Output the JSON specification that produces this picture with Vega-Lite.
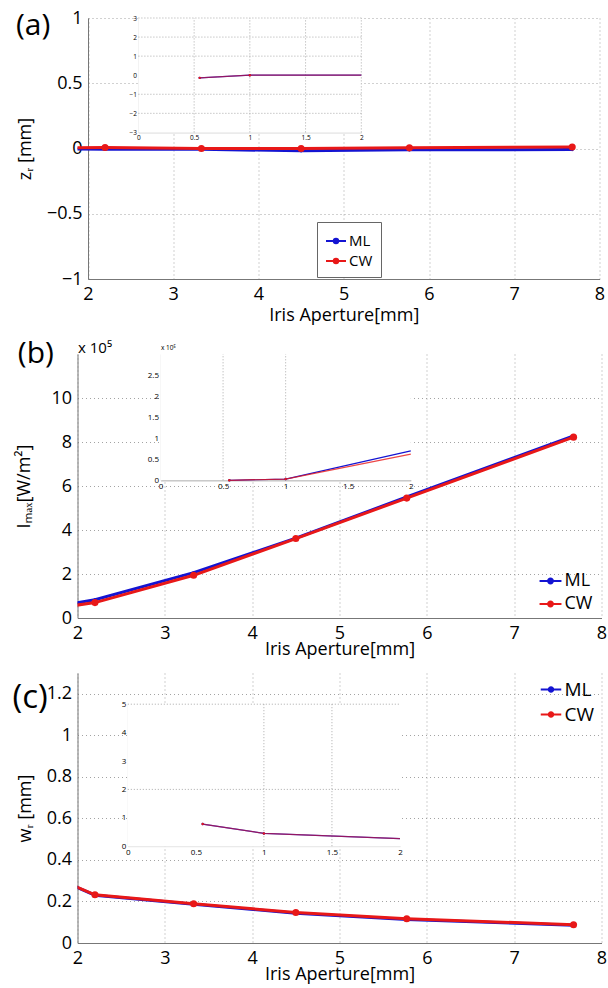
{
  "$schema": "https://vega.github.io/schema/vega-lite/v6.json",
  "background": "white",
  "padding": {"left": 12.5, "top": 9, "right": 2, "bottom": 2},
  "spacing": 15,
  "resolve": {"legend": {"color": "independent"}},
  "config": {
    "view": {"stroke": null},
    "font": "Open Sans",
    "axis": {
      "labelFont": "Open Sans", "titleFont": "Open Sans",
      "labelFontSize": 18, "titleFontSize": 18, "titleFontWeight": "normal",
      "labelColor": "#000", "titleColor": "#000",
      "domainColor": "#777", "ticks": false, "labelPadding": 6,
      "gridColor": "#999", "gridDash": [1, 3], "gridOpacity": 0.9,
      "labelFlush": false, "labelOverlap": false, "titlePadding": 8, "format": "~g"
    },
    "title": {"font": "Open Sans", "fontWeight": "normal", "fontSize": 30, "color": "#000"},
    "legend": {"labelFont": "Open Sans", "labelColor": "#000"}
  },
  "datasets": {
    "a": [
      {"x": 0.55, "s": "ML", "y": -0.14}, {"x": 1, "s": "ML", "y": 0}, {"x": 2.2, "s": "ML", "y": -0.005},
      {"x": 3.33, "s": "ML", "y": -0.006}, {"x": 4.5, "s": "ML", "y": -0.018}, {"x": 5.77, "s": "ML", "y": -0.01},
      {"x": 7.68, "s": "ML", "y": -0.008},
      {"x": 0.55, "s": "CW", "y": -0.14}, {"x": 1, "s": "CW", "y": 0}, {"x": 2.2, "s": "CW", "y": 0.008},
      {"x": 3.33, "s": "CW", "y": 0.0}, {"x": 4.5, "s": "CW", "y": 0.0}, {"x": 5.77, "s": "CW", "y": 0.005},
      {"x": 7.68, "s": "CW", "y": 0.012}
    ],
    "aIn": [
      {"x": 0.55, "s": "ML", "y": -0.14}, {"x": 1, "s": "ML", "y": 0}, {"x": 2, "s": "ML", "y": 0},
      {"x": 0.55, "s": "CW", "y": -0.14}, {"x": 1, "s": "CW", "y": 0}, {"x": 2, "s": "CW", "y": 0}
    ],
    "aBox": [{"x0": 0, "x1": 2, "y0": -3, "y1": 3}],
    "aGx": [{"g": 0.5}, {"g": 1}, {"g": 1.5}, {"g": 2}],
    "aGy": [{"g": -2}, {"g": -1}, {"g": 1}, {"g": 2}, {"g": 3}],
    "b": [
      {"x": 0.55, "s": "ML", "y": 0}, {"x": 1, "s": "ML", "y": 0.03}, {"x": 2.2, "s": "ML", "y": 0.83},
      {"x": 3.33, "s": "ML", "y": 2.06}, {"x": 4.5, "s": "ML", "y": 3.63}, {"x": 5.77, "s": "ML", "y": 5.5},
      {"x": 7.68, "s": "ML", "y": 8.28},
      {"x": 0.55, "s": "CW", "y": 0}, {"x": 1, "s": "CW", "y": 0.03}, {"x": 2.2, "s": "CW", "y": 0.7},
      {"x": 3.33, "s": "CW", "y": 1.94}, {"x": 4.5, "s": "CW", "y": 3.61}, {"x": 5.77, "s": "CW", "y": 5.45},
      {"x": 7.68, "s": "CW", "y": 8.22}
    ],
    "bIn": [
      {"x": 0.55, "s": "ML", "y": 0}, {"x": 1, "s": "ML", "y": 0.03}, {"x": 2, "s": "ML", "y": 0.7},
      {"x": 0.55, "s": "CW", "y": 0}, {"x": 1, "s": "CW", "y": 0.03}, {"x": 2, "s": "CW", "y": 0.62}
    ],
    "bBox": [{"x0": 0, "x1": 2, "y0": 0, "y1": 3}],
    "bGx": [{"g": 0.5}, {"g": 1}],
    "c": [
      {"x": 0.55, "s": "ML", "y": 0.78}, {"x": 1, "s": "ML", "y": 0.45}, {"x": 2.2, "s": "ML", "y": 0.23},
      {"x": 3.33, "s": "ML", "y": 0.187}, {"x": 4.5, "s": "ML", "y": 0.143}, {"x": 5.77, "s": "ML", "y": 0.113},
      {"x": 7.68, "s": "ML", "y": 0.086},
      {"x": 0.55, "s": "CW", "y": 0.78}, {"x": 1, "s": "CW", "y": 0.45}, {"x": 2.2, "s": "CW", "y": 0.232},
      {"x": 3.33, "s": "CW", "y": 0.189}, {"x": 4.5, "s": "CW", "y": 0.147}, {"x": 5.77, "s": "CW", "y": 0.117},
      {"x": 7.68, "s": "CW", "y": 0.088}
    ],
    "cIn": [
      {"x": 0.55, "s": "ML", "y": 0.78}, {"x": 1, "s": "ML", "y": 0.45}, {"x": 2, "s": "ML", "y": 0.27},
      {"x": 0.55, "s": "CW", "y": 0.78}, {"x": 1, "s": "CW", "y": 0.45}, {"x": 2, "s": "CW", "y": 0.27}
    ],
    "cBox": [{"x0": 0, "x1": 2, "y0": 0, "y1": 5}],
    "cGx": [{"g": 1}, {"g": 1.5}],
    "cGy": [{"g": 2}, {"g": 5}]
  },
  "vconcat": [
    {
      "title": {"text": "(a)", "anchor": "start", "frame": "bounds", "offset": -32, "dx": 0},
      "width": 522, "height": 261,
      "resolve": {"scale": {"x": "independent", "y": "independent"}},
      "layer": [
        {
          "data": {"name": "a"},
          "layer": [
            {
              "transform": [{"filter": "datum.s === 'ML'"}],
              "mark": {"type": "line", "strokeWidth": 3, "clip": true},
              "encoding": {
                "x": {"field": "x", "type": "quantitative", "scale": {"domain": [2, 8], "range": [10.5, 522], "nice": false, "zero": false},
                      "axis": {"orient": "bottom", "values": [2, 3, 4, 5, 6, 7, 8], "title": "Iris Aperture[mm]", "grid": true, "titlePadding": 3}},
                "y": {"field": "y", "type": "quantitative", "scale": {"domain": [-1, 1], "nice": false, "zero": false},
                      "axis": {"orient": "left", "offset": -10.5, "values": [-1, -0.5, 0, 0.5, 1], "title": "zᵣ [mm]", "grid": true,
                               "titleX": -54, "titleY": 130.5}},
                "color": {"field": "s", "type": "nominal", "scale": {"domain": ["ML", "CW"], "range": ["#1414d2", "#e81818"]},
                  "legend": {"orient": "none", "legendX": 239.5, "legendY": 204, "title": null, "strokeColor": "#666", "fillColor": "white",
                    "padding": 8, "labelFontSize": 15, "labelOffset": 2, "rowPadding": 1,
                    "symbolType": "M-1,0H1M0.22,0A0.22,0.22,0,1,1,-0.22,0A0.22,0.22,0,1,1,0.22,0Z", "symbolSize": 400, "symbolStrokeWidth": 2,
                    "encode": {"symbols": {"update": {"fill": {"scale": "color", "field": "value"}, "stroke": {"scale": "color", "field": "value"}}}}}}
              }
            },
            {
              "transform": [{"filter": "datum.s === 'ML'"}],
              "mark": {"type": "point", "filled": true, "size": 12, "opacity": 1, "clip": true},
              "encoding": {"x": {"field": "x", "type": "quantitative"}, "y": {"field": "y", "type": "quantitative"}, "color": {"field": "s", "type": "nominal"}}
            },
            {
              "transform": [{"filter": "datum.s === 'CW'"}],
              "mark": {"type": "line", "strokeWidth": 3, "clip": true},
              "encoding": {"x": {"field": "x", "type": "quantitative"}, "y": {"field": "y", "type": "quantitative"}, "color": {"field": "s", "type": "nominal"}}
            },
            {
              "transform": [{"filter": "datum.s === 'CW'"}],
              "mark": {"type": "point", "filled": true, "size": 50, "opacity": 1, "clip": true},
              "encoding": {"x": {"field": "x", "type": "quantitative"}, "y": {"field": "y", "type": "quantitative"}, "color": {"field": "s", "type": "nominal"}}
            }
          ]
        },
        {
          "layer": [
            {
              "data": {"name": "aBox"},
              "mark": {"type": "rect", "fill": "white"},
              "encoding": {
                "x": {"field": "x0", "type": "quantitative", "scale": {"domain": [0, 2], "range": [60.9, 283.8], "nice": false, "zero": false},
                      "axis": {"orient": "bottom", "offset": -146.6, "values": [0, 0.5, 1, 1.5, 2], "title": null, "grid": false,
                               "labelFontSize": 6.5, "labelPadding": 2, "domainColor": "#ccc"}},
                "x2": {"field": "x1"},
                "y": {"field": "y0", "type": "quantitative", "scale": {"domain": [-3, 3], "range": [114.4, 0], "nice": false, "zero": false},
                      "axis": {"orient": "left", "offset": -60.9, "values": [-3, -2, -1, 0, 1, 2, 3], "title": null, "grid": false,
                               "labelFontSize": 6.5, "labelPadding": 2, "domainColor": "#ccc"}},
                "y2": {"field": "y1"}
              }
            },
            {
              "data": {"name": "aGx"},
              "mark": {"type": "rule", "color": "#aaa", "strokeDash": [1, 2], "strokeWidth": 1},
              "encoding": {"x": {"field": "g", "type": "quantitative"}, "y": {"datum": -3}, "y2": {"datum": 3}}
            },
            {
              "data": {"name": "aGy"},
              "mark": {"type": "rule", "color": "#aaa", "strokeDash": [1, 2], "strokeWidth": 1},
              "encoding": {"y": {"field": "g", "type": "quantitative"}, "x": {"datum": 0}, "x2": {"datum": 2}}
            },
            {
              "data": {"name": "aIn"},
              "transform": [{"filter": "datum.s === 'ML'"}],
              "mark": {"type": "line", "strokeWidth": 1.3},
              "encoding": {"x": {"field": "x", "type": "quantitative"}, "y": {"field": "y", "type": "quantitative"}, "color": {"field": "s", "type": "nominal", "legend": null}}
            },
            {
              "data": {"name": "aIn"},
              "transform": [{"filter": "datum.s === 'CW'"}],
              "mark": {"type": "line", "strokeWidth": 1.3, "opacity": 0.6},
              "encoding": {"x": {"field": "x", "type": "quantitative"}, "y": {"field": "y", "type": "quantitative"}, "color": {"field": "s", "type": "nominal", "legend": null}}
            },
            {
              "data": {"name": "aIn"},
              "transform": [{"filter": "datum.x < 2"}],
              "mark": {"type": "point", "filled": true, "size": 6, "opacity": 1},
              "encoding": {"x": {"field": "x", "type": "quantitative"}, "y": {"field": "y", "type": "quantitative"}, "color": {"field": "s", "type": "nominal", "legend": null}}
            }
          ]
        }
      ]
    },
    {
      "title": {"text": "(b)", "anchor": "start", "frame": "bounds", "offset": -29, "dx": 2},
      "width": 524, "height": 264,
      "resolve": {"scale": {"x": "independent", "y": "independent"}},
      "layer": [
        {
          "data": {"name": "b"},
          "layer": [
            {
              "transform": [{"filter": "datum.s === 'ML'"}],
              "mark": {"type": "line", "strokeWidth": 3, "clip": true},
              "encoding": {
                "x": {"field": "x", "type": "quantitative", "scale": {"domain": [2, 8], "nice": false, "zero": false},
                      "axis": {"orient": "bottom", "values": [2, 3, 4, 5, 6, 7, 8], "title": "Iris Aperture[mm]", "grid": true, "titlePadding": -2}},
                "y": {"field": "y", "type": "quantitative", "scale": {"domain": [0, 12], "nice": false, "zero": false},
                      "axis": {"orient": "left", "values": [0, 2, 4, 6, 8, 10], "title": "Iₘₐₓ[W/m²]", "grid": true,
                               "titleX": -43.7, "titleY": 132}},
                "color": {"field": "s", "type": "nominal", "scale": {"domain": ["ML", "CW"], "range": ["#1414d2", "#e81818"]},
                  "legend": {"orient": "none", "legendX": 459, "legendY": 213, "title": null,
                    "padding": 2, "labelFontSize": 18, "labelOffset": 2, "rowPadding": 2,
                    "symbolType": "M-1,0H1M0.22,0A0.22,0.22,0,1,1,-0.22,0A0.22,0.22,0,1,1,0.22,0Z", "symbolSize": 480, "symbolStrokeWidth": 2,
                    "encode": {"symbols": {"update": {"fill": {"scale": "color", "field": "value"}, "stroke": {"scale": "color", "field": "value"}}}}}}
              }
            },
            {
              "transform": [{"filter": "datum.s === 'ML'"}],
              "mark": {"type": "point", "filled": true, "size": 12, "opacity": 1, "clip": true},
              "encoding": {"x": {"field": "x", "type": "quantitative"}, "y": {"field": "y", "type": "quantitative"}, "color": {"field": "s", "type": "nominal"}}
            },
            {
              "transform": [{"filter": "datum.s === 'CW'"}],
              "mark": {"type": "line", "strokeWidth": 3, "clip": true},
              "encoding": {"x": {"field": "x", "type": "quantitative"}, "y": {"field": "y", "type": "quantitative"}, "color": {"field": "s", "type": "nominal"}}
            },
            {
              "transform": [{"filter": "datum.s === 'CW'"}],
              "mark": {"type": "point", "filled": true, "size": 50, "opacity": 1, "clip": true},
              "encoding": {"x": {"field": "x", "type": "quantitative"}, "y": {"field": "y", "type": "quantitative"}, "color": {"field": "s", "type": "nominal"}}
            }
          ]
        },
        {
          "layer": [
            {
              "data": {"name": "bBox"},
              "mark": {"type": "rect", "fill": "white"},
              "encoding": {
                "x": {"field": "x0", "type": "quantitative", "scale": {"domain": [0, 2], "range": [83, 333.3], "nice": false, "zero": false},
                      "axis": {"orient": "bottom", "offset": -137.7, "values": [0, 0.5, 1, 1.5, 2], "grid": false,
                               "labelFontSize": 8, "labelPadding": 2, "domainColor": "#999",
                               "title": "x 10⁵", "titleFontSize": 15, "titleAngle": 0, "titleAlign": "left", "titleBaseline": "alphabetic",
                               "titleX": 0, "titleY": -128.3}},
                "x2": {"field": "x1"},
                "y": {"field": "y0", "type": "quantitative", "scale": {"domain": [0, 3], "range": [126.3, 0], "nice": false, "zero": false},
                      "axis": {"orient": "left", "offset": -83, "values": [0, 0.5, 1, 1.5, 2, 2.5], "grid": false,
                               "labelFontSize": 8, "labelPadding": 2, "domainColor": "#ddd",
                               "title": "x 10⁵", "titleFontSize": 6.5, "titleAngle": 0, "titleAlign": "left", "titleBaseline": "alphabetic",
                               "titleX": 0, "titleY": -5}},
                "y2": {"field": "y1"}
              }
            },
            {
              "data": {"name": "bGx"},
              "mark": {"type": "rule", "color": "#aaa", "strokeDash": [1, 2], "strokeWidth": 1},
              "encoding": {"x": {"field": "g", "type": "quantitative"}, "y": {"datum": 0}, "y2": {"datum": 3}}
            },
            {
              "data": {"name": "bIn"},
              "transform": [{"filter": "datum.s === 'ML'"}],
              "mark": {"type": "line", "strokeWidth": 1.2},
              "encoding": {"x": {"field": "x", "type": "quantitative"}, "y": {"field": "y", "type": "quantitative"}, "color": {"field": "s", "type": "nominal", "legend": null}}
            },
            {
              "data": {"name": "bIn"},
              "transform": [{"filter": "datum.s === 'CW'"}],
              "mark": {"type": "line", "strokeWidth": 1.2, "opacity": 0.8},
              "encoding": {"x": {"field": "x", "type": "quantitative"}, "y": {"field": "y", "type": "quantitative"}, "color": {"field": "s", "type": "nominal", "legend": null}}
            },
            {
              "data": {"name": "bIn"},
              "transform": [{"filter": "datum.x < 2"}],
              "mark": {"type": "point", "filled": true, "size": 6, "opacity": 1},
              "encoding": {"x": {"field": "x", "type": "quantitative"}, "y": {"field": "y", "type": "quantitative"}, "color": {"field": "s", "type": "nominal", "legend": null}}
            }
          ]
        }
      ]
    },
    {
      "title": {"text": "(c)", "anchor": "start", "frame": "bounds", "offset": -42, "dx": -4, "fontSize": 33},
      "width": 524, "height": 270,
      "resolve": {"scale": {"x": "independent", "y": "independent"}},
      "layer": [
        {
          "data": {"name": "c"},
          "layer": [
            {
              "transform": [{"filter": "datum.s === 'ML'"}],
              "mark": {"type": "line", "strokeWidth": 3, "clip": true},
              "encoding": {
                "x": {"field": "x", "type": "quantitative", "scale": {"domain": [2, 8], "nice": false, "zero": false},
                      "axis": {"orient": "bottom", "values": [2, 3, 4, 5, 6, 7, 8], "title": "Iris Aperture[mm]", "grid": true, "titlePadding": -2}},
                "y": {"field": "y", "type": "quantitative", "scale": {"domain": [0, 1.3], "nice": false, "zero": false},
                      "axis": {"orient": "left", "values": [0, 0.2, 0.4, 0.6, 0.8, 1, 1.2], "title": "wᵣ [mm]", "grid": true,
                               "titleX": -43, "titleY": 135}},
                "color": {"field": "s", "type": "nominal", "scale": {"domain": ["ML", "CW"], "range": ["#1414d2", "#e81818"]},
                  "legend": {"orient": "none", "legendX": 460, "legendY": 3, "title": null,
                    "padding": 2, "labelFontSize": 19, "labelOffset": 2, "rowPadding": 3,
                    "symbolType": "M-1,0H1M0.22,0A0.22,0.22,0,1,1,-0.22,0A0.22,0.22,0,1,1,0.22,0Z", "symbolSize": 420, "symbolStrokeWidth": 2,
                    "encode": {"symbols": {"update": {"fill": {"scale": "color", "field": "value"}, "stroke": {"scale": "color", "field": "value"}}}}}}
              }
            },
            {
              "transform": [{"filter": "datum.s === 'ML'"}],
              "mark": {"type": "point", "filled": true, "size": 12, "opacity": 1, "clip": true},
              "encoding": {"x": {"field": "x", "type": "quantitative"}, "y": {"field": "y", "type": "quantitative"}, "color": {"field": "s", "type": "nominal"}}
            },
            {
              "transform": [{"filter": "datum.s === 'CW'"}],
              "mark": {"type": "line", "strokeWidth": 3, "clip": true},
              "encoding": {"x": {"field": "x", "type": "quantitative"}, "y": {"field": "y", "type": "quantitative"}, "color": {"field": "s", "type": "nominal"}}
            },
            {
              "transform": [{"filter": "datum.s === 'CW'"}],
              "mark": {"type": "point", "filled": true, "size": 50, "opacity": 1, "clip": true},
              "encoding": {"x": {"field": "x", "type": "quantitative"}, "y": {"field": "y", "type": "quantitative"}, "color": {"field": "s", "type": "nominal"}}
            }
          ]
        },
        {
          "layer": [
            {
              "data": {"name": "cBox"},
              "mark": {"type": "rect", "fill": "white"},
              "encoding": {
                "x": {"field": "x0", "type": "quantitative", "scale": {"domain": [0, 2], "range": [50.3, 322.5], "nice": false, "zero": false},
                      "axis": {"orient": "bottom", "offset": -96.8, "values": [0, 0.5, 1, 1.5, 2], "title": null, "grid": false,
                               "labelFontSize": 8, "labelPadding": 2, "domainColor": "#ddd"}},
                "x2": {"field": "x1"},
                "y": {"field": "y0", "type": "quantitative", "scale": {"domain": [0, 5], "range": [173.2, 31.2], "nice": false, "zero": false},
                      "axis": {"orient": "left", "offset": -50.3, "values": [0, 1, 2, 3, 4, 5], "title": null, "grid": false,
                               "labelFontSize": 8, "labelPadding": 2, "domainColor": "#ddd"}},
                "y2": {"field": "y1"}
              }
            },
            {
              "data": {"name": "cGx"},
              "mark": {"type": "rule", "color": "#aaa", "strokeDash": [1, 2], "strokeWidth": 1},
              "encoding": {"x": {"field": "g", "type": "quantitative"}, "y": {"datum": 0}, "y2": {"datum": 5}}
            },
            {
              "data": {"name": "cGy"},
              "mark": {"type": "rule", "color": "#aaa", "strokeDash": [1, 2], "strokeWidth": 1},
              "encoding": {"y": {"field": "g", "type": "quantitative"}, "x": {"datum": 0}, "x2": {"datum": 2}}
            },
            {
              "data": {"name": "cIn"},
              "transform": [{"filter": "datum.s === 'ML'"}],
              "mark": {"type": "line", "strokeWidth": 1.3},
              "encoding": {"x": {"field": "x", "type": "quantitative"}, "y": {"field": "y", "type": "quantitative"}, "color": {"field": "s", "type": "nominal", "legend": null}}
            },
            {
              "data": {"name": "cIn"},
              "transform": [{"filter": "datum.s === 'CW'"}],
              "mark": {"type": "line", "strokeWidth": 1.3, "opacity": 0.6},
              "encoding": {"x": {"field": "x", "type": "quantitative"}, "y": {"field": "y", "type": "quantitative"}, "color": {"field": "s", "type": "nominal", "legend": null}}
            },
            {
              "data": {"name": "cIn"},
              "transform": [{"filter": "datum.x < 2"}],
              "mark": {"type": "point", "filled": true, "size": 6, "opacity": 1},
              "encoding": {"x": {"field": "x", "type": "quantitative"}, "y": {"field": "y", "type": "quantitative"}, "color": {"field": "s", "type": "nominal", "legend": null}}
            }
          ]
        }
      ]
    }
  ]
}
